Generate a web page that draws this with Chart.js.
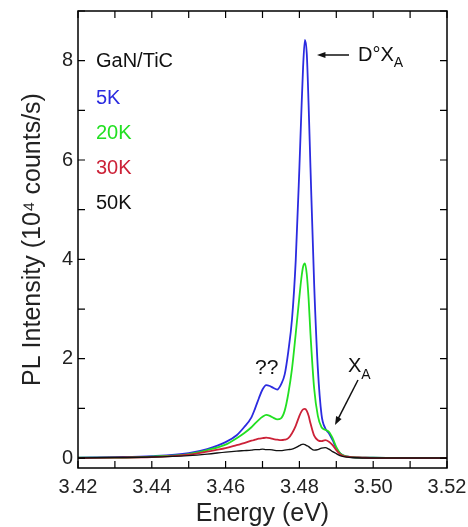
<!DOCTYPE html>
<html>
<head>
<meta charset="utf-8">
<script src="https://cdn.jsdelivr.net/npm/chart.js@4"></script>
<style>
  html, body { margin: 0; padding: 0; background: #fff; }
  #wrap { width: 468px; height: 527px; }
</style>
</head>
<body>
<div id="wrap"><canvas id="plChart"></canvas></div>
<script>
// Energy grid (eV) shared by all spectra
const energy = [3.42, 3.43, 3.44, 3.45, 3.455, 3.46, 3.463, 3.465, 3.467, 3.468, 3.469, 3.470, 3.471, 3.472, 3.473, 3.474, 3.475, 3.476, 3.477, 3.478, 3.479, 3.480, 3.4805, 3.481, 3.4815, 3.482, 3.4825, 3.483, 3.484, 3.485, 3.486, 3.487, 3.488, 3.489, 3.490, 3.491, 3.492, 3.494, 3.497, 3.50, 3.51, 3.52];

// PL intensity (10^4 counts/s)
const pl5K  = [0.01, 0.02, 0.04, 0.10, 0.18, 0.32, 0.46, 0.62, 0.82, 1.00, 1.20, 1.38, 1.47, 1.45, 1.41, 1.38, 1.48, 1.68, 2.15, 2.80, 3.97, 5.85, 6.90, 7.87, 8.42, 8.14, 7.10, 5.85, 3.50, 1.80, 0.87, 0.60, 0.50, 0.36, 0.20, 0.10, 0.05, 0.02, 0.01, 0.01, 0.00, 0.00];
const pl20K = [0.01, 0.01, 0.03, 0.08, 0.16, 0.27, 0.40, 0.50, 0.62, 0.70, 0.77, 0.83, 0.87, 0.85, 0.81, 0.78, 0.80, 0.95, 1.30, 1.80, 2.50, 3.25, 3.60, 3.85, 3.92, 3.70, 3.20, 2.50, 1.40, 0.85, 0.62, 0.57, 0.53, 0.40, 0.22, 0.10, 0.05, 0.02, 0.01, 0.01, 0.00, 0.00];
const pl30K = [0.00, 0.01, 0.02, 0.07, 0.13, 0.20, 0.26, 0.30, 0.35, 0.37, 0.39, 0.40, 0.41, 0.40, 0.38, 0.37, 0.36, 0.37, 0.40, 0.50, 0.65, 0.85, 0.93, 0.98, 0.99, 0.95, 0.85, 0.70, 0.45, 0.36, 0.34, 0.36, 0.33, 0.26, 0.16, 0.08, 0.04, 0.02, 0.01, 0.00, 0.00, 0.00];
const pl50K = [0.00, 0.01, 0.02, 0.05, 0.08, 0.12, 0.14, 0.15, 0.16, 0.17, 0.17, 0.18, 0.17, 0.17, 0.16, 0.15, 0.15, 0.16, 0.17, 0.18, 0.21, 0.25, 0.27, 0.28, 0.27, 0.25, 0.23, 0.20, 0.16, 0.17, 0.20, 0.21, 0.18, 0.13, 0.09, 0.05, 0.03, 0.01, 0.00, 0.00, 0.00, 0.00];

const seriesNames = ['5K', '20K', '30K', '50K'];
const seriesColors = ['#2b2be0', '#22e022', '#cc2238', '#111111'];
const seriesValues = [pl5K, pl20K, pl30K, pl50K];

const FONT = 'Arial, "Liberation Sans", Helvetica, sans-serif';

function toPoints(values) {
    return energy.map((e, i) => ({ x: e, y: values[i] }));
}

// Frame, inward ticks and text labels
const decorPlugin = {
    id: 'decor',
    afterDraw(chart) {
        const ctx = chart.ctx;
        const area = chart.chartArea;
        const xs = chart.scales.x;
        const ys = chart.scales.y;
        ctx.save();
        ctx.strokeStyle = '#000';
        ctx.lineWidth = 1.5;
        ctx.strokeRect(area.left, area.top, area.right - area.left, area.bottom - area.top);

        // ticks pointing inward on all four sides
        ctx.lineWidth = 1.2;
        const tl = 7;
        xs.ticks.forEach(t => {
            const px = xs.getPixelForValue(t.value);
            ctx.beginPath();
            ctx.moveTo(px, area.bottom); ctx.lineTo(px, area.bottom - tl);
            ctx.moveTo(px, area.top); ctx.lineTo(px, area.top + tl);
            ctx.stroke();
        });
        ys.ticks.forEach(t => {
            if (Math.abs(t.value - Math.round(t.value)) > 1e-6) return;
            const py = ys.getPixelForValue(t.value);
            ctx.beginPath();
            ctx.moveTo(area.left, py); ctx.lineTo(area.left + tl, py);
            ctx.moveTo(area.right, py); ctx.lineTo(area.right - tl, py);
            ctx.stroke();
        });

        // sample + legend text
        ctx.textBaseline = 'middle';
        ctx.textAlign = 'left';
        ctx.font = '20px ' + FONT;
        ctx.fillStyle = '#111';
        ctx.fillText('GaN/TiC', 96, 61);
        seriesNames.forEach((name, i) => {
            ctx.fillStyle = seriesColors[i];
            ctx.fillText(name, 96, 98 + i * 35);
        });

        // D°X_A label with arrow
        ctx.fillStyle = '#111';
        ctx.strokeStyle = '#111';
        ctx.font = '20px ' + FONT;
        ctx.fillText('D\u00B0X', 358, 55);
        const w1 = ctx.measureText('D\u00B0X').width;
        ctx.font = '14px ' + FONT;
        ctx.fillText('A', 358 + w1, 63);
        drawArrow(ctx, 349, 55, 317, 55);

        // X_A label with arrow
        ctx.font = '20px ' + FONT;
        ctx.fillText('X', 348, 366);
        const w2 = ctx.measureText('X').width;
        ctx.font = '14px ' + FONT;
        ctx.fillText('A', 348 + w2, 375);
        drawArrow(ctx, 358, 380, 335, 425);

        // ?? label
        ctx.font = '21px ' + FONT;
        ctx.fillText('??', 255, 368);
        ctx.restore();
    }
};

function drawArrow(ctx, x1, y1, x2, y2) {
    const ang = Math.atan2(y2 - y1, x2 - x1);
    const head = 9;
    ctx.lineWidth = 1.5;
    ctx.beginPath();
    ctx.moveTo(x1, y1);
    ctx.lineTo(x2 - Math.cos(ang) * head * 0.6, y2 - Math.sin(ang) * head * 0.6);
    ctx.stroke();
    ctx.beginPath();
    ctx.moveTo(x2, y2);
    ctx.lineTo(x2 - head * Math.cos(ang - 0.35), y2 - head * Math.sin(ang - 0.35));
    ctx.lineTo(x2 - head * Math.cos(ang + 0.35), y2 - head * Math.sin(ang + 0.35));
    ctx.closePath();
    ctx.fill();
}

const ctx = document.getElementById('plChart').getContext('2d');
new Chart(ctx, {
    type: 'line',
    data: {
        datasets: seriesValues.map((vals, i) => ({
            label: seriesNames[i],
            data: toPoints(vals),
            borderColor: seriesColors[i],
            borderWidth: i === 3 ? 1.4 : 1.8,
            pointRadius: 0,
            fill: false,
            cubicInterpolationMode: 'monotone'
        })).reverse()
    },
    options: {
        responsive: true,
        maintainAspectRatio: false,
        animation: false,
        layout: { padding: { top: 11, right: 21, left: 18, bottom: 0 } },
        plugins: {
            legend: { display: false },
            tooltip: { enabled: false }
        },
        scales: {
            x: {
                type: 'linear',
                min: 3.42,
                max: 3.52,
                grid: { display: false, drawTicks: false },
                border: { display: false },
                afterFit: s => { s.height = 59; s.paddingLeft = 0; s.paddingRight = 0; },
                ticks: {
                    stepSize: 0.01,
                    autoSkip: false,
                    maxRotation: 0,
                    padding: 7,
                    color: '#222',
                    font: { family: FONT, size: 20 },
                    callback: v => Math.round(v * 100) % 2 === 0 ? v.toFixed(2) : ''
                },
                title: {
                    display: true,
                    text: 'Energy (eV)',
                    color: '#222',
                    font: { family: FONT, size: 25 },
                    padding: { top: 0, bottom: -2 }
                }
            },
            y: {
                min: -0.2,
                max: 9,
                grid: { display: false, drawTicks: false },
                border: { display: false },
                afterFit: s => { s.width = 60; s.paddingTop = 0; s.paddingBottom = 0; },
                ticks: {
                    stepSize: 1,
                    includeBounds: false,
                    padding: 5,
                    color: '#222',
                    font: { family: FONT, size: 20 },
                    callback: v => (Math.round(v) === v && v % 2 === 0) ? String(v) : ''
                },
                title: {
                    display: true,
                    text: 'PL Intensity (10\u2074 counts/s)',
                    color: '#222',
                    font: { family: FONT, size: 25 },
                    padding: { top: 0, bottom: 0 }
                }
            }
        }
    },
    plugins: [decorPlugin]
});
</script>
</body>
</html>
